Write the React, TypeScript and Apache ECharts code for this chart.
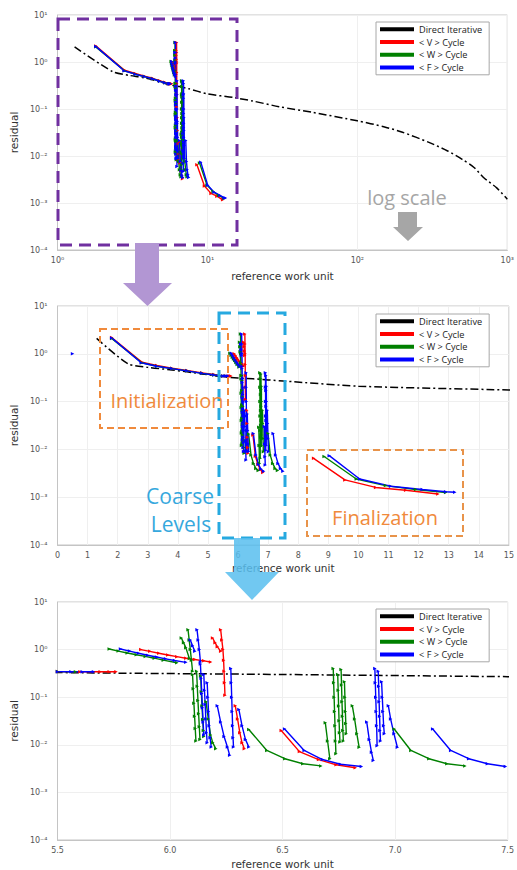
import React, { useEffect, useRef } from 'react';
import * as echarts from 'echarts';

type Pt = [number, number];

const legendNames = ['Direct Iterative', '< V > Cycle', '< W > Cycle', '< F > Cycle'];
const seriesColors = ['#000000', '#ff0000', '#008000', '#0000ff'];

const directIterative: Pt[] = [[1.3, 2.1], [2.34, 0.62], [3, 0.52], [3.8, 0.46], [4.8, 0.38], [5.5, 0.33], [6.5, 0.3], [7.5, 0.27], [10, 0.21], [15, 0.175], [20, 0.148], [30, 0.112], [50, 0.085], [100, 0.056], [150, 0.042], [200, 0.032], [300, 0.0195], [400, 0.0128], [500, 0.0085], [600, 0.0057], [700, 0.0034], [850, 0.0021], [1000, 0.0012]];

// < V > cycle
const vInit: Pt[] = [[1.8, 2.2], [2.8, 0.67], [3.3, 0.57], [3.8, 0.5], [4.3, 0.45], [4.8, 0.4], [5.2, 0.37], [5.5, 0.345], [5.6, 0.343], [5.69, 0.343], [5.73, 0.343], [5.76, 0.343]];
const vUpper: Pt[] = [[5.87, 1.0], [5.91, 0.92], [5.95, 0.84], [5.99, 0.77], [6.03, 0.71], [6.07, 0.66], [6.11, 0.62], [6.15, 0.58], [6.18, 0.55]];
const vCoarse: Pt[][] = [
  [[6.189, 1.75], [6.2, 1.4], [6.21, 1.15], [6.225, 0.92]],
  [[6.225, 2.6], [6.23, 1.6], [6.235, 1.0], [6.238, 0.6], [6.24, 0.35], [6.242, 0.2], [6.244, 0.11]],
  [[6.29, 0.066], [6.3, 0.035], [6.31, 0.018], [6.32, 0.011], [6.33, 0.0083]],
];
const vTail: Pt[] = [[6.494, 0.02], [6.575, 0.0072], [6.66, 0.0049], [6.738, 0.0038], [6.823, 0.0033]];
const vFinal: Pt[] = [[8.51, 0.0065], [9.55, 0.0023], [10.57, 0.0016], [11.57, 0.0014], [12.64, 0.00117]];

// < W > cycle
const wInit: Pt[] = [[1.8, 2.1], [2.8, 0.65], [3.3, 0.55], [3.8, 0.49], [4.3, 0.44], [4.8, 0.39], [5.2, 0.36], [5.5, 0.345], [5.58, 0.343]];
const wUpper: Pt[] = [[5.73, 1.03], [5.77, 0.93], [5.81, 0.85], [5.85, 0.78], [5.89, 0.72], [5.93, 0.66], [5.97, 0.6], [6.03, 0.53]];
const wCoarse: Pt[][] = [
  [[6.05, 1.75], [6.06, 1.4], [6.07, 1.1], [6.086, 0.65]],
  [[6.08, 2.6], [6.085, 1.6], [6.09, 1.0], [6.095, 0.6], [6.1, 0.35]],
  [[6.1, 0.3], [6.103, 0.15], [6.106, 0.075], [6.109, 0.04], [6.112, 0.022], [6.115, 0.012]],
  [[6.118, 0.35], [6.121, 0.17], [6.124, 0.085], [6.127, 0.045], [6.13, 0.024], [6.133, 0.013]],
  [[6.136, 0.28], [6.139, 0.13], [6.142, 0.065], [6.145, 0.034], [6.148, 0.02], [6.15, 0.015]],
  [[6.16, 0.08], [6.17, 0.035], [6.18, 0.016], [6.19, 0.011], [6.203, 0.0083]],
  [[6.35, 0.021], [6.43, 0.0076], [6.51, 0.0051], [6.59, 0.004], [6.67, 0.0036]],
  [[6.69, 0.029], [6.7, 0.012], [6.71, 0.0051]],
  [[6.725, 0.4], [6.727, 0.2], [6.729, 0.1], [6.731, 0.05], [6.733, 0.025], [6.735, 0.012], [6.737, 0.0065]],
  [[6.745, 0.3], [6.747, 0.14], [6.749, 0.065], [6.751, 0.032], [6.753, 0.018], [6.755, 0.0115]],
  [[6.76, 0.38], [6.762, 0.18], [6.764, 0.08], [6.766, 0.04], [6.768, 0.02], [6.77, 0.012]],
  [[6.775, 0.21], [6.777, 0.1], [6.779, 0.05], [6.781, 0.028], [6.783, 0.017]],
  [[6.81, 0.066], [6.82, 0.035], [6.83, 0.017], [6.84, 0.0089]],
];
const wTail: Pt[] = [[6.996, 0.0215], [7.07, 0.0076], [7.15, 0.0051], [7.23, 0.004], [7.31, 0.0036]];
const wFinal: Pt[] = [[8.86, 0.0071], [9.93, 0.0024], [10.9, 0.00175], [11.9, 0.00145], [12.9, 0.00125]];

// < F > cycle
const fStart: Pt[] = [[0.5, 1.0]];
const fInit: Pt[] = [[1.8, 2.15], [2.78, 0.65], [3.3, 0.55], [3.8, 0.49], [4.3, 0.44], [4.8, 0.39], [5.2, 0.36], [5.5, 0.344], [5.56, 0.343], [5.61, 0.343], [5.66, 0.343]];
const fUpper: Pt[] = [[5.78, 1.03], [5.82, 0.93], [5.86, 0.84], [5.9, 0.76], [5.94, 0.7], [5.98, 0.64], [6.02, 0.59], [6.07, 0.54]];
const fCoarse: Pt[][] = [
  [[6.09, 1.6], [6.1, 1.2], [6.11, 0.92]],
  [[6.12, 2.6], [6.125, 1.6], [6.13, 1.0], [6.135, 0.55]],
  [[6.135, 0.5], [6.138, 0.25], [6.141, 0.12], [6.144, 0.06], [6.147, 0.03], [6.15, 0.016]],
  [[6.15, 0.3], [6.153, 0.14], [6.156, 0.07], [6.159, 0.035], [6.162, 0.018], [6.165, 0.011]],
  [[6.165, 0.2], [6.168, 0.1], [6.171, 0.05], [6.174, 0.025], [6.178, 0.014], [6.183, 0.009]],
  [[6.21, 0.066], [6.225, 0.03], [6.24, 0.015], [6.255, 0.009], [6.265, 0.006]],
  [[6.27, 0.4], [6.272, 0.2], [6.274, 0.1], [6.276, 0.05], [6.278, 0.025], [6.28, 0.014], [6.282, 0.009]],
  [[6.306, 0.055], [6.32, 0.025], [6.335, 0.013], [6.35, 0.009]],
  [[6.509, 0.0215], [6.596, 0.0076], [6.677, 0.0049], [6.757, 0.0039], [6.85, 0.0035]],
  [[6.874, 0.03], [6.885, 0.013], [6.895, 0.007], [6.903, 0.0047]],
  [[6.91, 0.4], [6.912, 0.2], [6.914, 0.1], [6.916, 0.05], [6.918, 0.025], [6.92, 0.0096]],
  [[6.925, 0.35], [6.927, 0.17], [6.929, 0.08], [6.931, 0.04], [6.933, 0.02], [6.935, 0.012]],
  [[6.94, 0.21], [6.943, 0.1], [6.946, 0.05], [6.949, 0.025], [6.952, 0.017]],
  [[6.97, 0.066], [6.98, 0.035], [6.995, 0.017], [7.01, 0.0089]],
];
const fTail: Pt[] = [[7.167, 0.0215], [7.247, 0.0076], [7.327, 0.0051], [7.41, 0.004], [7.49, 0.0035]];
const fFinal: Pt[] = [[9.03, 0.0074], [10.04, 0.0024], [11.07, 0.0017], [12.12, 0.00145], [12.9, 0.0013], [13.2, 0.00127]];

const supMap: Record<string, string> = { '-': '⁻', '0': '⁰', '1': '¹', '2': '²', '3': '³', '4': '⁴', '5': '⁵' };
const pow10 = (v: number) => '10' + String(Math.round(Math.log10(v))).split('').map((c) => supMap[c] || c).join('');

const grids = [
  { top: 15, height: 235 },
  { top: 306, height: 239 },
  { top: 602, height: 240 },
];
const legendTops = [22, 314, 609];

export default function App() {
  const ref = useRef<HTMLDivElement>(null);
  useEffect(() => {
    if (!ref.current) return;
    const chart = echarts.init(ref.current, undefined, { renderer: 'svg' });
    const tickFont = { fontFamily: 'DejaVu Sans', fontSize: 8, color: '#555' };
    const nameFont = { fontFamily: 'DejaVu Sans', fontSize: 10.5, color: '#333' };
    const splitLine = { show: true, lineStyle: { color: '#efefef', width: 1 } };
    const axisLine = { show: true, lineStyle: { color: '#c4c4c4' } };

    const xAxes: any[] = [
      { type: 'log', logBase: 10, min: 1, max: 1000, gridIndex: 0, axisLabel: { ...tickFont, formatter: pow10, margin: 6 }, name: 'reference work unit', nameLocation: 'middle', nameGap: 20, nameTextStyle: nameFont, splitLine, axisLine, axisTick: { show: false } },
      { type: 'value', min: 0, max: 15, interval: 1, gridIndex: 1, axisLabel: { ...tickFont, margin: 6 }, name: 'reference work unit', nameLocation: 'middle', nameGap: 17, nameTextStyle: nameFont, splitLine, axisLine, axisTick: { show: false } },
      { type: 'value', min: 5.5, max: 7.5, interval: 0.5, gridIndex: 2, axisLabel: { ...tickFont, margin: 6, formatter: (v: number) => v.toFixed(1) }, name: 'reference work unit', nameLocation: 'middle', nameGap: 18, nameTextStyle: nameFont, splitLine, axisLine, axisTick: { show: false } },
    ];
    const yAxes: any[] = [0, 1, 2].map((i) => ({
      type: 'log', logBase: 10, min: 1e-4, max: 10, gridIndex: i,
      axisLabel: { ...tickFont, formatter: pow10, margin: 10 },
      name: 'residual', nameLocation: 'middle', nameGap: 34, nameTextStyle: nameFont,
      splitLine, axisLine, axisTick: { show: false },
    }));

    const series: any[] = [];
    const add = (name: string, color: string, data: Pt[], gi: number, extra: any = {}) => {
      series.push({
        type: 'line', name, data, xAxisIndex: gi, yAxisIndex: gi,
        lineStyle: { color, width: 1.4 }, itemStyle: { color },
        symbol: 'triangle', symbolRotate: -90, symbolSize: 3.5, showSymbol: true,
        clip: true, animation: false, ...extra,
      });
    };
    for (let gi = 0; gi < 3; gi++) {
      add(legendNames[0], seriesColors[0], directIterative, gi, { symbol: 'none', smooth: 0.25, lineStyle: { color: '#000', width: 1.5, type: [8, 3, 2, 3] }, z: 1 });
      [vInit, vUpper, ...vCoarse, vTail, vFinal].forEach((d) => add(legendNames[1], seriesColors[1], d, gi));
      [wInit, wUpper, ...wCoarse, wTail, wFinal].forEach((d) => add(legendNames[2], seriesColors[2], d, gi));
      [fStart, fInit, fUpper, ...fCoarse, fTail, fFinal].forEach((d) => add(legendNames[3], seriesColors[3], d, gi));
    }

    const legends = legendTops.map((t) => ({
      data: legendNames, left: 376, top: t, orient: 'vertical', icon: 'rect',
      itemWidth: 34, itemHeight: 4, itemGap: 0, padding: [1, 7, 1, 4],
      borderColor: '#a8a8a8', borderWidth: 1, backgroundColor: '#fff', selectedMode: false,
      textStyle: { fontFamily: 'Open Sans', fontSize: 9.2, color: '#222', lineHeight: 12.7 },
    }));

    const dashed = (x: number, y: number, w: number, h: number, stroke: string, lw: number, dash: number[]) => ({
      type: 'rect', z: 100, shape: { x, y, width: w, height: h },
      style: { fill: 'none', stroke, lineWidth: lw, lineDash: dash },
    });
    const label = (text: string, x: number, y: number, fill: string, size: number) => ({
      type: 'text', z: 101, x, y,
      style: { text, fill, fontSize: size, fontFamily: 'Open Sans', align: 'center', verticalAlign: 'middle' },
    });

    const graphic: any[] = [
      dashed(58, 19, 179, 226, '#7030a0', 3, [12, 7]),
      { type: 'polygon', z: 100, shape: { points: [[135, 243], [159, 243], [159, 283], [172, 283], [147.5, 306], [123, 283], [135, 283]] }, style: { fill: '#b296d3' } },
      label('log scale', 407, 197, '#a6a6a6', 20),
      { type: 'polygon', z: 100, shape: { points: [[398, 212], [417, 212], [417, 227], [423, 227], [408, 241], [393, 227], [398, 227]] }, style: { fill: '#a6a6a6' } },
      dashed(100, 329, 128, 99, '#f08a3c', 2, [7, 4]),
      label('Initialization', 167, 400, '#f08a3c', 20),
      dashed(219, 313, 66, 225, '#26a9e0', 3, [12, 7]),
      label('Coarse', 180, 496, '#36a8dd', 21),
      label('Levels', 181, 524, '#36a8dd', 21),
      { type: 'polygon', z: 100, shape: { points: [[234, 538], [260, 538], [260, 572], [279, 572], [252, 600], [225, 572], [234, 572]] }, style: { fill: 'rgba(88,190,238,0.85)' } },
      dashed(307, 450, 156, 86, '#e8934a', 2, [7, 4]),
      label('Finalization', 385, 517, '#f08a3c', 20),
    ];

    chart.setOption({
      animation: false,
      backgroundColor: '#fff',
      grid: grids.map((g) => ({ left: 53, right: 8, top: g.top, height: g.height, show: true, borderColor: '#c4c4c4', borderWidth: 1, backgroundColor: 'transparent' })),
      xAxis: xAxes,
      yAxis: yAxes,
      legend: legends,
      series,
      graphic,
    });
    return () => chart.dispose();
  }, []);
  return <div ref={ref} style={{ position: 'absolute', left: 0, top: 0, width: 517, height: 870 }} />;
}
